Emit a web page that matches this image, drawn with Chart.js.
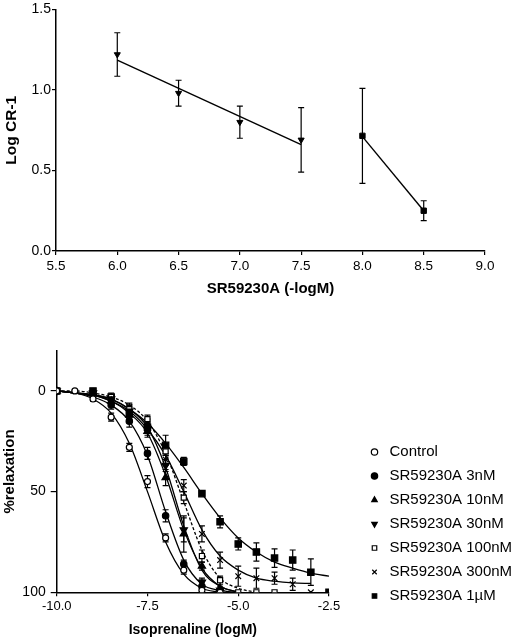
<!DOCTYPE html>
<html>
<head>
<meta charset="utf-8">
<script src="https://cdn.jsdelivr.net/npm/chart.js@4/dist/chart.umd.min.js"></script>
<style>
  body { margin: 0; background: #fff; }
  canvas { position: absolute; left: 0; }
  #schild { top: 0; }
  #curves { top: 300px; }
</style>
</head>
<body>
<canvas id="schild" width="514" height="300"></canvas>
<canvas id="curves" width="514" height="340"></canvas>
<script>
// ---- top panel: Schild plot ----
const schildX = [6.0, 6.5, 7.0, 7.5, 8.0, 8.5];
const schildY = [1.22, 0.98, 0.80, 0.69, 0.715, 0.25];
const schildErr = [0.135, 0.08, 0.10, 0.20, 0.295, 0.062];
const regLowX = [6.0, 7.5];
const regLowY = [1.185, 0.66];
const regHighX = [8.0, 8.5];
const regHighY = [0.71, 0.25];

// ---- bottom panel: isoprenaline curves ----
const isoLog = [-10, -9.5, -9, -8.5, -8, -7.5, -7, -6.5, -6, -5.5, -5, -4.5, -4, -3.5, -3, -2.5];
const seriesNames = ['Control', 'SR59230A 3nM', 'SR59230A 10nM', 'SR59230A 30nM',
  'SR59230A 100nM', 'SR59230A 300nM', 'SR59230A 1\u00b5M'];

const relaxControl = [0, 0, 4, 13, 28, 45, 73, 89, 99, 100];
const relax3nM     = [0, null, 2, 7, 15, 31, 62, 86, 97];
const relax10nM    = [0, null, 1, 5, 12, 20, 43, 71, 87, 98];
const relax30nM    = [0, null, 1, 4, 10, 19, 37, 69, 95, 99];
const relax100nM   = [0, null, 1, 3, 9, 14, 30, 53, 82, 94, 100, 100, 100];
const relax300nM   = [0, null, 1, 4, 8, 17, 34, 47, 71, 84, 92, 93, 93, 96, 100];
const relax1uM     = [0, null, 0, 3, 11, 18, 27, 35, 51, 65, 76, 80, 83, 84, 90, 100];

const errControl = [0, 0, 1, 2, 2, 3, 2, 2, 1, 0];
const err3nM     = [0, null, 1, 2, 3, 3, 3, 2, 3];
const err10nM    = [0, null, 1, 2, 3, 3, 4, 9, 2, 1];
const err30nM    = [0, null, 1, 2, 3, 3, 3, 6, 2, 1];
const err100nM   = [0, null, 1, 1, 2, 2, 2, 3, 3, 2, 0, 0, 0];
const err300nM   = [0, null, 1, 2, 2, 3, 3, 3, 4, 4, 5, 5, 3, 3, 0];
const err1uM     = [0, null, 1, 2, 3, 3, 5, 2, 1, 3, 3, 4.5, 4.6, 5, 6.6, 0];

// fitted curves
const fitControl = [0, 1, 4, 11, 26, 50, 75, 91, 98, 100];
const fit3nM     = [0, 1, 3, 7, 15, 32, 60, 84, 96, 99, 100];
const fit10nM    = [0, 1, 2, 5, 11, 21, 42, 69, 88, 97, 100];
const fit30nM    = [0, 1, 2, 4, 9, 18, 38, 67, 89, 97, 100];
const fit100nM   = [0, 0, 1, 3, 7, 15, 31, 55, 79, 93, 98, 100];
const fit300nM   = [0, 1, 2, 5, 10, 19, 32, 50, 69, 82, 89, 93, 94.5, 95.3, 95.6];
const fit1uM     = [0, 1, 2, 4, 9, 16, 26, 38, 51, 63, 73, 80, 85, 88, 90.5, 92];

Chart.defaults.font.family = 'Arial, "Liberation Sans", sans-serif';
Chart.defaults.color = '#000';

function toPoints(xs, ys, errs) {
  const data = [], errors = [];
  xs.forEach((x, i) => {
    if (ys[i] == null) return;
    data.push({ x: x, y: ys[i] });
    errors.push(errs ? errs[i] : 0);
  });
  return { data, errors };
}

const errorBars = {
  id: 'errorBars',
  beforeDatasetsDraw(chart) {
    const ctx = chart.ctx;
    const xs = chart.scales.x, ys = chart.scales.y;
    chart.data.datasets.forEach((ds, i) => {
      if (!ds.errors) return;
      ctx.save();
      ctx.strokeStyle = '#000';
      ctx.lineWidth = 1.2;
      ds.data.forEach((p, j) => {
        const e = ds.errors[j];
        if (!e) return;
        const x = xs.getPixelForValue(p.x);
        const y1 = ys.getPixelForValue(p.y - e);
        const y2 = ys.getPixelForValue(p.y + e);
        const cap = ds.capWidth || 3;
        ctx.beginPath();
        ctx.moveTo(x, y1); ctx.lineTo(x, y2);
        ctx.moveTo(x - cap, y1); ctx.lineTo(x + cap, y1);
        ctx.moveTo(x - cap, y2); ctx.lineTo(x + cap, y2);
        ctx.stroke();
      });
      ctx.restore();
    });
  }
};

function axisStyle(extra) {
  return Object.assign({
    grid: { display: true, drawOnChartArea: false, drawTicks: true, tickLength: 4, color: '#000', lineWidth: 1.2 },
    border: { display: true, color: '#000', width: 1.5 }
  }, extra);
}

// ---------- top chart ----------
const low = toPoints(schildX.slice(0, 4), schildY.slice(0, 4), schildErr.slice(0, 4));
const high = toPoints(schildX.slice(4), schildY.slice(4), schildErr.slice(4));

new Chart(document.getElementById('schild'), {
  type: 'line',
  data: {
    datasets: [
      { data: low.data, errors: low.errors, capWidth: 3, showLine: false,
        pointStyle: 'triangle', rotation: 180, pointRadius: 3.5,
        backgroundColor: '#000', borderColor: '#000', borderWidth: 1 },
      { data: high.data, errors: high.errors, capWidth: 3, showLine: false,
        pointStyle: 'rect', pointRadius: 3.8,
        backgroundColor: '#000', borderColor: '#000', borderWidth: 1 },
      { data: toPoints(regLowX, regLowY).data, pointRadius: 0, borderColor: '#000', borderWidth: 1.4 },
      { data: toPoints(regHighX, regHighY).data, pointRadius: 0, borderColor: '#000', borderWidth: 1.4 }
    ]
  },
  options: {
    responsive: false,
    animation: false,
    devicePixelRatio: 1,
    layout: { padding: { top: 7, right: 29, left: 0, bottom: 0 } },
    plugins: { legend: { display: false }, tooltip: { enabled: false } },
    scales: {
      x: axisStyle({
        type: 'linear', min: 5.5, max: 9.0,
        ticks: { stepSize: 0.5, padding: 3, font: { size: 13.5 }, callback: v => v.toFixed(1) },
        title: { display: true, text: 'SR59230A (-logM)', font: { size: 15, weight: 'bold' }, padding: { top: 0, bottom: 2 } },
        afterFit: s => { s.height = 49; }
      }),
      y: axisStyle({
        type: 'linear', min: 0, max: 1.5,
        ticks: { stepSize: 0.5, padding: 1, font: { size: 14 }, callback: v => v.toFixed(1) },
        title: { display: true, text: 'Log CR-1', font: { size: 15.5, weight: 'bold' }, padding: { top: 2, bottom: 0 } },
        afterFit: s => { s.width = 56; }
      })
    }
  },
  plugins: [errorBars]
});

// ---------- bottom chart ----------
const relaxSets = [relaxControl, relax3nM, relax10nM, relax30nM, relax100nM, relax300nM, relax1uM];
const errSets = [errControl, err3nM, err10nM, err30nM, err100nM, err300nM, err1uM];
const fitSets = [fitControl, fit3nM, fit10nM, fit30nM, fit100nM, fit300nM, fit1uM];
const markerStyles = [
  { pointStyle: 'circle', rotation: 0, pointRadius: 3, backgroundColor: '#fff' },
  { pointStyle: 'circle', rotation: 0, pointRadius: 3.2, backgroundColor: '#000' },
  { pointStyle: 'triangle', rotation: 0, pointRadius: 4.2, backgroundColor: '#000' },
  { pointStyle: 'triangle', rotation: 180, pointRadius: 4.2, backgroundColor: '#000' },
  { pointStyle: 'rect', rotation: 0, pointRadius: 3.6, backgroundColor: '#fff' },
  { pointStyle: 'crossRot', rotation: 0, pointRadius: 4, backgroundColor: '#000' },
  { pointStyle: 'rect', rotation: 0, pointRadius: 4.5, backgroundColor: '#000' }
];

const curveDatasets = [];
seriesNames.forEach((name, k) => {
  const p = toPoints(isoLog, relaxSets[k], errSets[k]);
  curveDatasets.push(Object.assign({
    label: name, data: p.data, errors: p.errors, capWidth: 3, showLine: false,
    borderColor: '#000', borderWidth: 1.2, marker: true
  }, markerStyles[k]));
});
seriesNames.forEach((name, k) => {
  curveDatasets.push({
    label: name + ' fit', data: toPoints(isoLog, fitSets[k]).data, pointRadius: 0,
    borderColor: '#000', borderWidth: 1.3, cubicInterpolationMode: 'monotone',
    borderDash: k === 4 ? [3, 2] : []
  });
});

new Chart(document.getElementById('curves'), {
  type: 'line',
  data: { datasets: curveDatasets },
  options: {
    responsive: false,
    animation: false,
    devicePixelRatio: 1,
    layout: { padding: { top: 50.7, right: 0, left: 0, bottom: 0 } },
    plugins: {
      tooltip: { enabled: false },
      legend: {
        position: 'right', align: 'start', fullSize: true, maxWidth: 156,
        title: { display: true, text: ' ', font: { size: 10 }, padding: { top: 0, bottom: 72.8 } },
        labels: {
          usePointStyle: true, boxWidth: 15, boxHeight: 4.5, padding: 9,
          font: { size: 15 }, color: '#000',
          filter: (item, data) => data.datasets[item.datasetIndex].marker === true
        }
      }
    },
    scales: {
      x: axisStyle({
        type: 'linear', min: -10, max: -2.5,
        ticks: { stepSize: 2.5, padding: 2, font: { size: 13 }, callback: v => v.toFixed(1) },
        title: { display: true, text: 'Isoprenaline (logM)', font: { size: 14, weight: 'bold' }, padding: { top: 0, bottom: 1.6 } },
        afterFit: s => { s.height = 47.7; }
      }),
      y: axisStyle({
        type: 'linear', min: -20, max: 100, reverse: true,
        grid: { display: true, drawOnChartArea: false, drawTicks: true, tickLength: 6, color: '#000', lineWidth: 1.2 },
        afterBuildTicks: s => { s.ticks = [0, 50, 100].map(v => ({ value: v })); },
        ticks: { padding: 5, font: { size: 14 } },
        title: { display: true, text: '%relaxation', font: { size: 15, weight: 'bold' }, padding: { top: 1, bottom: 0 } },
        afterFit: s => { s.width = 56.7; }
      }),
      yR: {
        position: 'right', display: true,
        grid: { display: false }, border: { display: false }, ticks: { display: false },
        afterFit: s => { s.width = 29; }
      }
    }
  },
  plugins: [errorBars]
});
</script>
</body>
</html>
